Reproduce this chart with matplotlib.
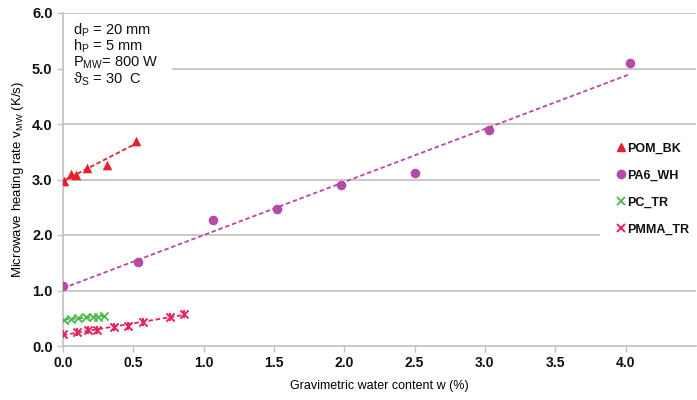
import numpy as np
import matplotlib
matplotlib.use("Agg")
import matplotlib.pyplot as plt
from matplotlib.lines import Line2D
from matplotlib.patches import Rectangle

plt.rcParams['font.family'] = ['Liberation Sans', 'DejaVu Sans']

# Data
pom_x = [0.01, 0.06, 0.09, 0.17, 0.31, 0.52]
pom_y = [2.97, 3.10, 3.09, 3.21, 3.27, 3.70]

pa6_x = [0.0, 0.53, 1.07, 1.52, 1.98, 2.50, 3.03, 4.03]
pa6_y = [1.08, 1.52, 2.27, 2.47, 2.90, 3.12, 3.90, 5.10]

pc_x = [0.01, 0.06, 0.11, 0.16, 0.21, 0.25, 0.29]
pc_y = [0.47, 0.49, 0.50, 0.52, 0.52, 0.53, 0.54]

pmma_x = [0.0, 0.10, 0.18, 0.245, 0.36, 0.46, 0.57, 0.76, 0.86]
pmma_y = [0.21, 0.25, 0.29, 0.28, 0.34, 0.36, 0.44, 0.52, 0.58]

labels = ['POM_BK', 'PA6_WH', 'PC_TR', 'PMMA_TR']
colors = ['#e8202c', '#b54aa8', '#4cb84c', '#e8205a']

x_ticks = [0.0, 0.5, 1.0, 1.5, 2.0, 2.5, 3.0, 3.5, 4.0]
y_ticks = [0.0, 1.0, 2.0, 3.0, 4.0, 5.0, 6.0]

W, H = 697, 400
fig = plt.figure(figsize=(6.97, 4.0), dpi=100)
ax = fig.add_axes([0.0904, 0.135, 0.908, 0.8325])

grid_c = '#c0c0c0'
for yt in y_ticks[1:]:
    ax.axhline(yt, color=grid_c, lw=1.2, zorder=0)

def trend(xs, ys, color):
    xs = np.asarray(xs); ys = np.asarray(ys)
    m, b = np.polyfit(xs, ys, 1)
    xx = np.array([xs.min(), xs.max()])
    ax.plot(xx, m * xx + b, ls=(0, (2.5, 1.5)), color=color, lw=1.3, zorder=2)

trend(pom_x, pom_y, colors[0])
trend(pa6_x, pa6_y, colors[1])
trend(pc_x, pc_y, colors[2])
trend(pmma_x, pmma_y, colors[3])

ax.scatter(pom_x, pom_y, marker='^', s=48, color=colors[0], zorder=3, lw=0)
ax.scatter(pa6_x, pa6_y, marker='o', s=48, color=colors[1], zorder=3, lw=0)
ax.scatter(pc_x, pc_y, marker='x', s=34, color=colors[2], zorder=3, lw=1.3)
ax.scatter(pmma_x, pmma_y, marker='x', s=34, color=colors[3], zorder=3, lw=1.4)
ax.scatter(pmma_x, pmma_y, marker='|', s=30, color=colors[3], zorder=3, lw=1.4)

ax.set_xlim(0, 4.5)
ax.set_ylim(0, 6.0)
ax.set_xticks(x_ticks)
ax.set_yticks(y_ticks)
ax.set_xticklabels([f'{v:.1f}' for v in x_ticks], fontsize=10, fontweight='bold')
ax.set_yticklabels([f'{v:.1f}' for v in y_ticks], fontsize=10.5, fontweight='bold')
ax.tick_params(axis='both', colors=grid_c, labelcolor='#111111', length=4, width=1)
for s in ['top', 'right']:
    ax.spines[s].set_visible(False)
for s in ['left', 'bottom']:
    ax.spines[s].set_color(grid_c)
    ax.spines[s].set_linewidth(1.2)

ax.set_xlabel('Gravimetric water content w (%)', fontsize=9, labelpad=7)
ax.set_ylabel(r'Microwave heating rate v$_\mathregular{MW}$ (K/s)', fontsize=9.5, labelpad=4)

# white background behind the parameter box (breaks the 5.0 gridline)
ax.add_patch(Rectangle((64 / W, 1 - 88 / H), (172 - 64) / W, (88 - 18) / H,
                       transform=fig.transFigure, facecolor='white', edgecolor='none',
                       zorder=1, clip_on=False))
info = ('d$_\\mathregular{P}$ = 20 mm\n'
        'h$_\\mathregular{P}$ = 5 mm\n'
        'P$_\\mathregular{MW}$= 800 W\n'
        'ϑ$_\\mathregular{S}$ = 30  C')
fig.text(73 / W, 1 - 21 / H, info, fontsize=10.5, va='top', ha='left',
         linespacing=0.92, color='#111111', zorder=4)

# white background behind legend (breaks the 3.0 and 2.0 gridlines)
ax.add_patch(Rectangle((600 / W, 1 - 250 / H), (W - 600) / W, (250 - 130) / H,
                       transform=fig.transFigure, facecolor='white', edgecolor='none',
                       zorder=1, clip_on=False))

handles = [
    Line2D([], [], ls='none', marker='^', color=colors[0], markersize=6),
    Line2D([], [], ls='none', marker='o', color=colors[1], markersize=6),
    Line2D([], [], ls='none', marker='x', color=colors[2], markersize=6, mew=1.3),
    Line2D([], [], ls='none', marker='x', color=colors[3], markersize=6, mew=1.4),
]
leg = fig.legend(handles, labels, loc='upper left', bbox_to_anchor=(603 / W, 1 - 130 / H),
                 frameon=False, fontsize=9, labelspacing=1.2, handlelength=0.8,
                 handletextpad=0.15, borderpad=0.5)
for t in leg.get_texts():
    t.set_fontweight('bold')
    t.set_color('#111111')

fig.savefig('out.png', dpi=100)
